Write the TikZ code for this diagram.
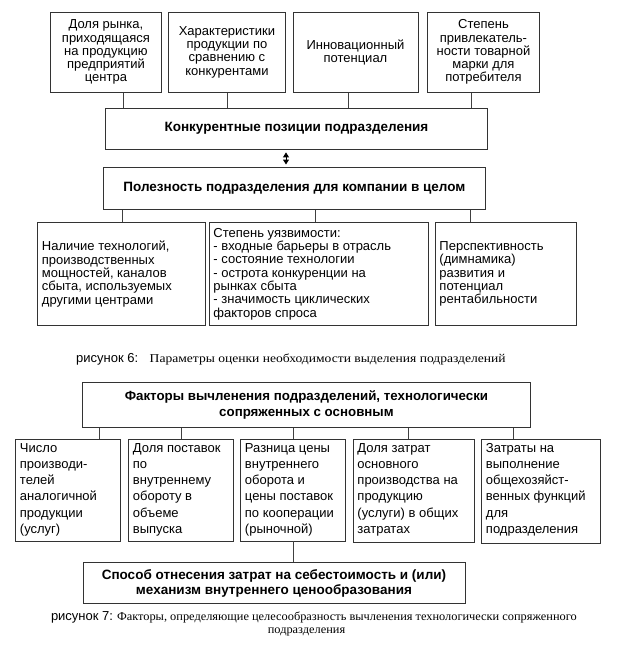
\documentclass[tikz,border=0pt]{standalone}
\usepackage{fontspec}
\setmainfont{Liberation Sans}
\newfontfamily\capfontA[FakeStretch=1.13]{Liberation Serif}
\newfontfamily\capfontB[FakeStretch=1.03]{Liberation Serif}
\usetikzlibrary{arrows.meta}

\tikzset{
  boxst/.style={draw=black!80, line width=0.9pt, inner sep=0pt, anchor=north west, fill=white},
  conn/.style={draw=black!75, line width=0.9pt},
  dblarrow/.style={draw=black, line width=1pt, {Triangle[length=5pt,width=6pt]}-{Triangle[length=5pt,width=6pt]}, shorten <=2.5pt, shorten >=2.5pt},
  capst/.style={inner sep=0pt, anchor=base west}
}

% name x y w h innerpos align fontsetup text
\newcommand{\boxnode}[9]{%
  \node[boxst, minimum width=#4pt, minimum height=#5pt] (#1) at (#2,#3)
  {\parbox[c][\dimexpr #5pt - 4pt\relax][#6]{\dimexpr #4pt - 9pt\relax}{#8#7#9}};}

\newcommand{\regA}{\fontsize{13}{13.3}\selectfont}
\newcommand{\regB}{\fontsize{13}{16.2}\selectfont}
\newcommand{\boldA}{\bfseries\fontsize{13.5}{16}\selectfont}
\newcommand{\boldB}{\bfseries\fontsize{13.3}{16.5}\selectfont}
\newcommand{\boldC}{\bfseries\fontsize{13.5}{15}\selectfont}

\begin{document}
\begin{tikzpicture}[x=1pt,y=-1pt]
\useasboundingbox (0,0) rectangle (620,645);

% ---- figure 6 ----
\boxnode{t1}{50}{11.5}{111}{80.5}{c}{\centering}{\regA}{Доля рынка,\\ приходящаяся\\ на продукцию\\ предприятий\\ центра}
\boxnode{t2}{168}{11.5}{117}{80.5}{c}{\centering}{\regA}{Характеристики\\ продукции по\\ сравнению с\\ конкурентами}
\boxnode{t3}{292.5}{11.5}{125}{80.5}{c}{\centering}{\regA}{Инновационный\\ потенциал}
\boxnode{t4}{427}{11.5}{112}{80.5}{c}{\centering}{\regA}{Степень\\ привлекатель-\\ности товарной\\ марки для\\ потребителя}

\boxnode{konk}{105}{107.5}{382}{41.5}{c}{\centering}{\boldA}{Конкурентные позиции подразделения}
\boxnode{polez}{103}{167}{382}{42}{c}{\centering}{\boldA}{Полезность подразделения для компании в целом}

\boxnode{ra}{37}{222}{167.5}{103}{c}{\raggedright}{\regA}{Наличие технологий,\\ производственных\\ мощностей, каналов\\ сбыта, используемых\\ другими центрами}
\boxnode{rb}{208.5}{222}{219.5}{103}{c}{\raggedright}{\regA}{Степень уязвимости:\\ - входные барьеры в отрасль\\ - состояние технологии\\ - острота конкуренции на\\ рынках сбыта\\ - значимость циклических\\ факторов спроса}
\boxnode{rc}{434.5}{222}{141}{103}{c}{\raggedright}{\regA}{Перспективность\\ (димнамика)\\ развития и\\ потенциал\\ рентабильности}

\coordinate (x1) at (123.5,0);
\coordinate (x3) at (348.4,0);
\coordinate (x4) at (471,0);
\draw[conn] (t1.south -| x1) -- (konk.north -| x1);
\draw[conn] (t2.south) -- (t2.south |- konk.north);
\draw[conn] (t3.south -| x3) -- (konk.north -| x3);
\draw[conn] (t4.south -| x4) -- (konk.north -| x4);

\coordinate (ax) at (286,0);
\draw[dblarrow] (konk.south -| ax) -- (polez.north -| ax);

\coordinate (p1) at (122,0);
\coordinate (p2) at (315.5,0);
\coordinate (p3) at (470,0);
\draw[conn] (polez.south -| p1) -- (ra.north -| p1);
\draw[conn] (polez.south -| p2) -- (rb.north -| p2);
\draw[conn] (polez.south -| p3) -- (rc.north -| p3);

\node[capst] (cap6) at (76,362) {\fontsize{13}{15}\selectfont рисунок 6:\hspace{11.5pt}{\capfontA\fontsize{12}{14}\selectfont Параметры оценки необходимости выделения подразделений}};

% ---- figure 7 ----
\boxnode{fakt}{82}{382}{448}{45}{c}{\centering}{\boldB}{Факторы вычленения подразделений, технологически\\ сопряженных с основным}

\boxnode{b1}{15}{438.5}{105}{102}{t}{\raggedright}{\regB}{\strut Число\\ производи-\\ телей\\ аналогичной\\ продукции\\ (услуг)}
\boxnode{b2}{128}{438.5}{105}{102}{t}{\raggedright}{\regB}{\strut Доля поставок\\ по\\ внутреннему\\ обороту в\\ объеме\\ выпуска}
\boxnode{b3}{240}{438.5}{105}{102}{t}{\raggedright}{\regB}{\strut Разница цены\\ внутреннего\\ оборота и\\ цены поставок\\ по кооперации\\ (рыночной)}
\boxnode{b4}{352.5}{438.5}{121.5}{103}{t}{\raggedright}{\regB}{\strut Доля затрат\\ основного\\ производства на\\ продукцию\\ (услуги) в общих\\ затратах}
\boxnode{b5}{481}{438.5}{119}{104}{t}{\raggedright}{\regB}{\strut Затраты на\\ выполнение\\ общехозяйст-\\ венных функций\\ для\\ подразделения}

\coordinate (f1) at (99,0);
\coordinate (f2) at (181.3,0);
\coordinate (f3) at (293.7,0);
\coordinate (f4) at (408,0);
\coordinate (f5) at (513,0);
\draw[conn] (fakt.south -| f1) -- (b1.north -| f1);
\draw[conn] (fakt.south -| f2) -- (b2.north -| f2);
\draw[conn] (fakt.south -| f3) -- (b3.north -| f3);
\draw[conn] (fakt.south -| f4) -- (b4.north -| f4);
\draw[conn] (fakt.south -| f5) -- (b5.north -| f5);

\boxnode{spos}{82.5}{562}{382}{41}{c}{\centering}{\boldC}{Способ отнесения затрат на себестоимость и (или)\\ механизм внутреннего ценообразования}
\draw[conn] (b3.south) -- (b3.south |- spos.north);

\node[capst] (cap7a) at (50.8,620.5) {\fontsize{13}{15}\selectfont рисунок 7:\hspace{4pt}{\capfontB\fontsize{12}{14}\selectfont Факторы, определяющие целесообразность вычленения технологически сопряженного}};
\node[inner sep=0pt, anchor=base] (cap7b) at (306.5,633.5) {\capfontB\fontsize{12}{14}\selectfont подразделения};
\end{tikzpicture}
\end{document}
